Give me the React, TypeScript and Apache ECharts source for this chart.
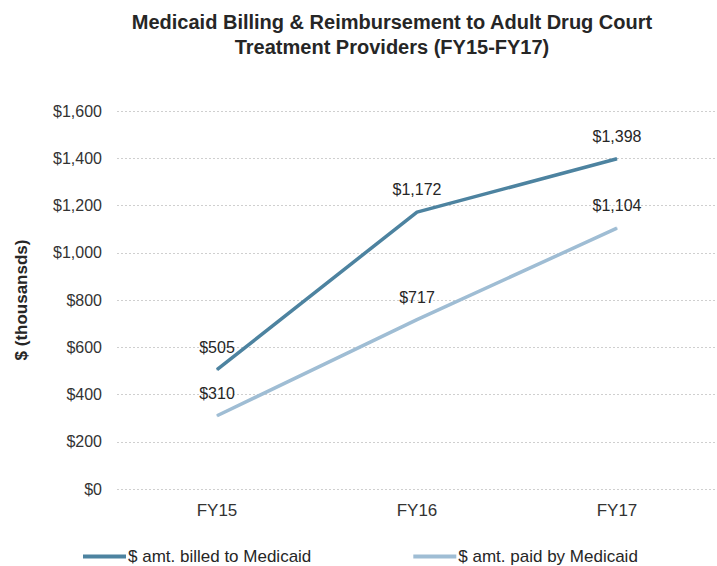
import React, { useEffect, useRef } from "react";
import * as echarts from "echarts";

const categories = ["FY15", "FY16", "FY17"];
const billed = [505, 1172, 1398];
const paid = [310, 717, 1104];
const seriesNames = ["$ amt. billed to Medicaid", "$ amt. paid by Medicaid"];

const FONT = "Liberation Sans, Arial, sans-serif";

export default function App() {
  const ref = useRef<HTMLDivElement>(null);
  useEffect(() => {
    if (!ref.current) return;
    const chart = echarts.init(ref.current, null, { renderer: "svg" });
    const fmt = (v: number) => "$" + v.toLocaleString("en-US");
    const mkLabel = () => ({
      show: true,
      position: "top",
      distance: 14,
      fontFamily: FONT,
      fontSize: 16,
      color: "#262626",
      formatter: (p: any) => fmt(p.value),
    });
    chart.setOption({
      animation: false,
      backgroundColor: "#ffffff",
      textStyle: { fontFamily: FONT },
      title: {
        text: "Medicaid Billing & Reimbursement to Adult Drug Court\nTreatment Providers (FY15-FY17)",
        left: 387,
        top: 4,
        textAlign: "center",
        textStyle: { fontFamily: FONT, fontSize: 20, fontWeight: "bold", color: "#262626", lineHeight: 25 },
      },
      grid: { left: 117, right: -11, top: 111, bottom: 77, containLabel: false },
      legend: {
        data: seriesNames,
        left: 78,
        top: 543,
        itemWidth: 43,
        itemHeight: 4,
        itemGap: 102,
        icon: "rect",
        textStyle: { fontFamily: FONT, fontSize: 17, color: "#262626", padding: [0, 0, 0, -3] },
      },
      xAxis: {
        type: "category",
        data: categories,
        boundaryGap: true,
        axisLine: { show: false },
        axisTick: { show: false },
        axisLabel: { fontFamily: FONT, fontSize: 17, color: "#333333", margin: 13 },
      },
      yAxis: {
        type: "value",
        min: 0,
        max: 1600,
        interval: 200,
        name: "$ (thousansds)",
        nameLocation: "middle",
        nameGap: 87,
        nameTextStyle: { fontFamily: FONT, fontSize: 17, fontWeight: "bold", color: "#262626" },
        axisLabel: { fontFamily: FONT, fontSize: 16, color: "#333333", margin: 15, formatter: (v: number) => fmt(v) },
        axisLine: { show: false },
        axisTick: { show: false },
        splitLine: { lineStyle: { color: "#cfcfcf", type: [2, 2], width: 1 } },
      },
      series: [
        {
          name: seriesNames[0],
          type: "line",
          data: billed,
          symbol: "circle",
          symbolSize: 1,
          showSymbol: true,
          lineStyle: { color: "#4d83a0", width: 3.5 },
          itemStyle: { color: "#4d83a0" },
          label: mkLabel(),
        },
        {
          name: seriesNames[1],
          type: "line",
          data: paid,
          symbol: "circle",
          symbolSize: 1,
          showSymbol: true,
          lineStyle: { color: "#9fbdd4", width: 3.5 },
          itemStyle: { color: "#9fbdd4" },
          label: mkLabel(),
        },
      ],
    });
    return () => chart.dispose();
  }, []);
  return (
    <div
      ref={ref}
      style={{ position: "absolute", left: 0, top: 0, width: 717, height: 566, background: "#fff" }}
    />
  );
}
